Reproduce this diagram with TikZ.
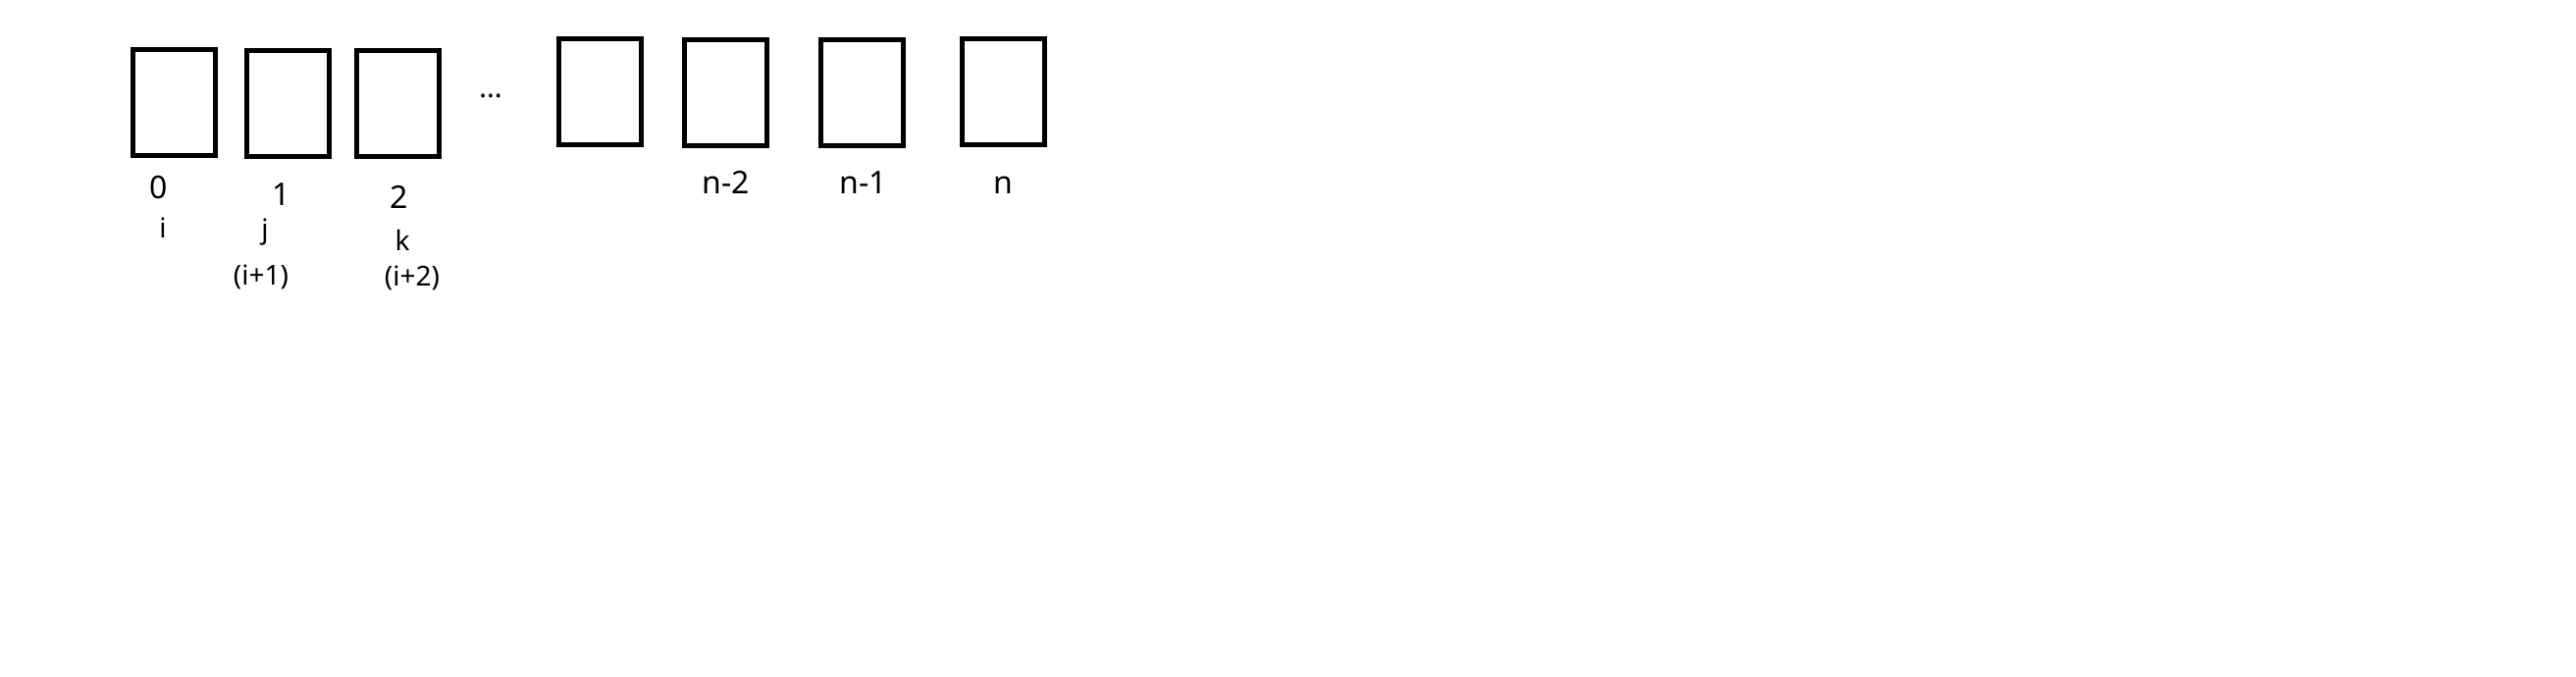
\documentclass[tikz,border=0pt]{standalone}
\usepackage{fontspec}
\setmainfont{Noto Sans}
\begin{document}
\begin{tikzpicture}[x=1pt,y=-1pt,
  cell/.style={draw=black, line width=5pt, minimum width=84pt, minimum height=108pt, inner sep=0pt},
  idx/.style={inner sep=0pt, anchor=base, font=\fontsize{32}{36}\selectfont},
  hand/.style={inner sep=0pt, anchor=base, font=\fontsize{28}{32}\selectfont}]
\useasboundingbox (0,0) rectangle (2625,689);
\node[cell] (b0) at (177,104.5) {};
\node[cell] (b1) at (293.5,105.5) {};
\node[cell] (b2) at (405.5,105.5) {};
\node[inner sep=0pt, anchor=base, font=\fontsize{30}{34}\selectfont] (dots) at (500,99) {…};
\node[cell] (b3) at (611.5,93.5) {};
\node[cell] (bn2) at (739.5,94.5) {};
\node[cell] (bn1) at (878.5,94.5) {};
\node[cell] (bn) at (1022.5,93.5) {};
\node[idx] (l0) at (162,202) {0};
\node[idx] (l1) at (287,209) {1};
\node[idx] (l2) at (407,212) {2};
\node[idx] (ln2) at (740,197) {n-2};
\node[idx] (ln1) at (880,197) {n-1};
\node[idx] (ln) at (1022,197) {n};
\node[hand] (hi) at (166,242) {i};
\node[hand] (hj) at (270,243) {j};
\node[hand] (hk) at (410,255) {k};
\node[hand] (hi1) at (266,290) {(i+1)};
\node[hand] (hi2) at (420,291) {(i+2)};
\end{tikzpicture}
\end{document}
